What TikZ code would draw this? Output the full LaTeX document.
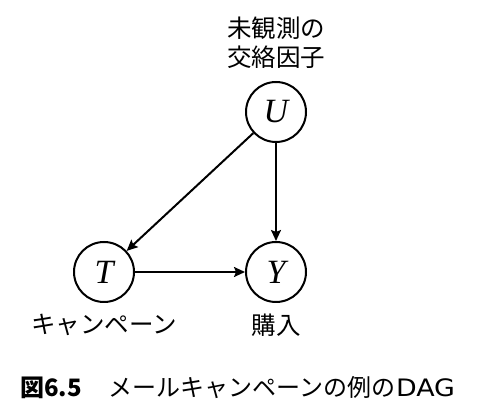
\documentclass[tikz,border=0pt]{standalone}
\usepackage{fontspec}
\newfontfamily\jp{Noto Sans CJK JP}
\newfontfamily\dv{DejaVu Sans}
\newfontfamily\serifit{Liberation Serif}
\usetikzlibrary{arrows.meta}
\begin{document}
\begin{tikzpicture}[x=1pt,y=1pt,
  var/.style={circle,draw,line width=2pt,minimum size=60pt,inner sep=0pt,font=\serifit\itshape\fontsize{34}{34}\selectfont},
  jplabel/.style={font=\jp\fontsize{24.5}{29}\selectfont,align=center,inner sep=0pt},
  edge/.style={line width=2pt,-{Stealth[length=11pt,width=10pt,inset=2pt]}}]
\useasboundingbox (0,0) rectangle (494,414);
\node[var] (U) at (276,302) {U};
\node[var] (T) at (104,142) {T};
\node[var] (Y) at (276,142) {Y};
\node[jplabel] (ulab) at (276,371) {未観測の\\交絡因子};
\node[jplabel] (tlab) at (104,89) {キャンペーン};
\node[jplabel] (ylab) at (276,89) {購入};
\node[font=\jp\fontsize{24}{26}\selectfont,anchor=west,inner sep=0pt] (cap) at (20,26) {{\bfseries 図6.5}\hspace{1.1em}メールキャンペーンの例の\hspace{1pt}{\dv\scalebox{1.12}[1]{DAG}}};
\draw[edge] (U) -- (T);
\draw[edge] (U) -- (Y);
\draw[edge] (T) -- (Y);
\end{tikzpicture}
\end{document}
